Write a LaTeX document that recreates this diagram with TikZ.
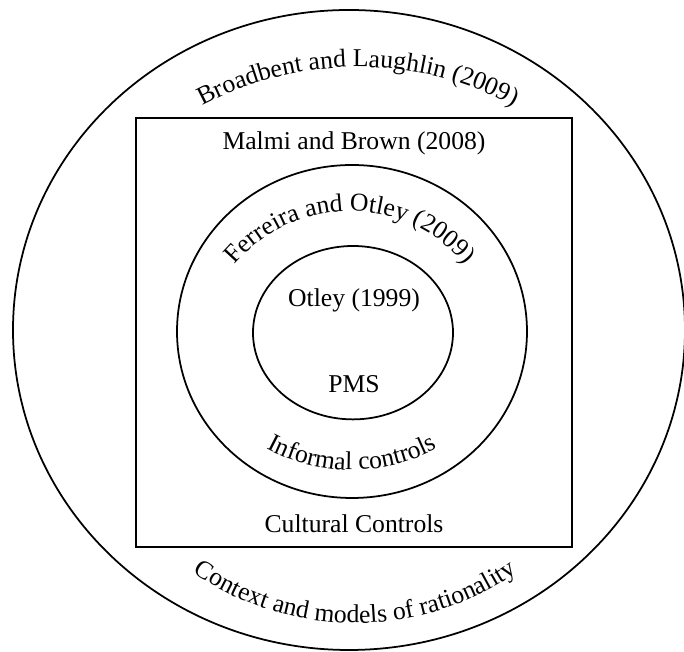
\documentclass[tikz,border=0pt]{standalone}
\usepackage{fontspec}
\setmainfont{Liberation Serif}
\usetikzlibrary{positioning, decorations.text}
\newcommand{\lblfont}{\fontsize{14.6}{17}\selectfont}
\tikzset{
  ring/.style={draw=black, line width=1pt},
  tag/.style={font=\lblfont, anchor=base, inner sep=0pt},
  arclabel/.style={decorate, decoration={text along path, text align=center, text={|\lblfont|#1}}},
}

\begin{document}
\begin{tikzpicture}[x=0.02cm, y=0.02cm]
\useasboundingbox (0,0) rectangle (684,652);
\clip (0,0) rectangle (684,652);
\draw[ring] (349,322) ellipse [x radius=336, y radius=320];
\draw[ring] (136,105) rectangle (572,534);
\draw[ring] (352,320.5) ellipse [x radius=175, y radius=166.5];
\draw[ring] (353,319.3) ellipse [x radius=100, y radius=86.7];
\node[tag] (malmi) at (354,502) {Malmi and Brown (2008)};
\node[tag] (otley) at (354,345) {Otley (1999)};
\node[tag] (pms) at (354,259) {PMS};
\node[tag] (cultural) at (354,119) {Cultural Controls};
\path[arclabel={Broadbent and Laughlin (2009)}] (358,255) ++(130:330) arc [start angle=130, end angle=50, radius=330];
\path[arclabel={Ferreira and Otley (2009)}] (350,290) ++(150:151) arc [start angle=150, end angle=30, radius=151];
\path[arclabel={Informal controls}] (352,362) ++(225:180) arc [start angle=225, end angle=315, radius=180];
\path[arclabel={Context and models of rationality}] (355,314) ++(220:285) arc [start angle=220, end angle=320, radius=285];
\end{tikzpicture}
\end{document}
